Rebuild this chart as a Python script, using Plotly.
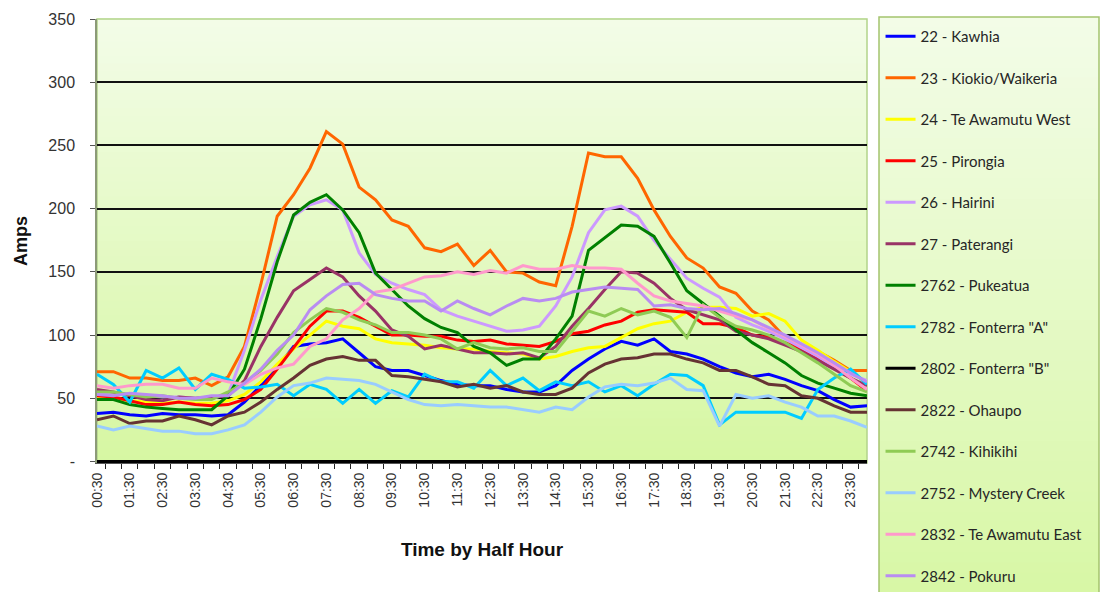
import plotly.graph_objects as go

times = ["00:30", "01:00", "01:30", "02:00", "02:30", "03:00", "03:30", "04:00",
         "04:30", "05:00", "05:30", "06:00", "06:30", "07:00", "07:30", "08:00",
         "08:30", "09:00", "09:30", "10:00", "10:30", "11:00", "11:30", "12:00",
         "12:30", "13:00", "13:30", "14:00", "14:30", "15:00", "15:30", "16:00",
         "16:30", "17:00", "17:30", "18:00", "18:30", "19:00", "19:30", "20:00",
         "20:30", "21:00", "21:30", "22:00", "22:30", "23:00", "23:30", "24:00"]

kawhia = [38, 39, 37, 36, 38, 37, 37, 36, 37, 47, 60, 74, 91, 93, 94, 97, 86, 75, 72, 72, 68, 64, 61, 60,
          60, 57, 55, 55, 60, 72, 81, 89, 95, 92, 97, 87, 85, 81, 75, 70, 67, 69, 65, 60, 56, 49, 43, 44]
kiokio = [71, 71, 66, 66, 64, 64, 66, 60, 67, 91, 140, 194, 211, 232, 261, 251, 217, 207, 191, 186, 169, 166, 172, 155,
          167, 150, 149, 142, 139, 186, 244, 241, 241, 224, 199, 178, 161, 153, 138, 133, 119, 112, 98, 92, 87, 80, 72, 72]
te_awamutu_west = [50, 50, 48, 47, 46, 47, 46, 46, 48, 53, 63, 77, 89, 100, 111, 107, 105, 97, 94, 93, 92, 90, 89, 89,
                   87, 86, 85, 81, 83, 87, 90, 91, 98, 105, 109, 111, 118, 122, 122, 121, 115, 117, 111, 96, 88, 79, 71, 62]
pirongia = [52, 51, 48, 45, 45, 47, 45, 44, 45, 49, 57, 73, 90, 107, 119, 119, 114, 107, 100, 100, 99, 99, 96, 95,
            96, 93, 92, 91, 95, 101, 103, 108, 111, 118, 120, 119, 118, 109, 109, 106, 100, 98, 94, 89, 81, 74, 66, 56]
hairini = [55, 54, 53, 52, 51, 51, 50, 50, 53, 88, 128, 162, 194, 203, 207, 199, 165, 148, 141, 136, 132, 120, 115, 111,
           107, 103, 104, 107, 123, 146, 181, 199, 202, 194, 175, 160, 145, 137, 130, 114, 108, 103, 97, 90, 83, 75, 69, 64]
paterangi = [57, 55, 52, 49, 48, 51, 50, 51, 52, 64, 91, 114, 135, 144, 153, 146, 131, 119, 104, 99, 89, 92, 89, 86,
             86, 85, 86, 82, 91, 107, 121, 136, 150, 149, 141, 129, 120, 116, 112, 103, 100, 97, 92, 87, 80, 73, 66, 60]
pukeatua = [49, 49, 45, 43, 42, 41, 41, 41, 52, 73, 113, 158, 195, 205, 211, 199, 181, 149, 136, 123, 113, 106, 102, 91,
            86, 76, 81, 81, 97, 115, 167, 177, 187, 186, 178, 157, 135, 125, 115, 104, 94, 86, 78, 68, 62, 58, 54, 52]
fonterra_a = [69, 61, 47, 72, 66, 74, 57, 69, 65, 58, 59, 61, 52, 61, 57, 46, 57, 46, 56, 51, 69, 63, 63, 58,
              72, 60, 66, 56, 63, 60, 63, 55, 60, 52, 61, 69, 68, 60, 29, 39, 39, 39, 39, 34, 57, 66, 73, 61]
fonterra_b = [0, 0, 0, 0, 0, 0, 0, 0, 0, 0, 0, 0, 0, 0, 0, 0, 0, 0, 0, 0, 0, 0, 0, 0,
              0, 0, 0, 0, 0, 0, 0, 0, 0, 0, 0, 0, 0, 0, 0, 0, 0, 0, 0, 0, 0, 0, 0, 0]
ohaupo = [33, 36, 30, 32, 32, 36, 33, 29, 36, 39, 47, 57, 66, 76, 81, 83, 80, 80, 68, 67, 65, 63, 59, 61,
          58, 60, 55, 53, 53, 58, 70, 77, 81, 82, 85, 85, 81, 78, 72, 72, 67, 61, 60, 52, 50, 44, 39, 39]
kihikihi = [55, 55, 53, 51, 52, 50, 49, 49, 55, 62, 72, 85, 102, 112, 121, 118, 112, 108, 102, 102, 100, 97, 89, 94,
            90, 89, 90, 87, 87, 103, 119, 115, 121, 116, 119, 114, 98, 124, 114, 107, 104, 100, 94, 86, 78, 69, 60, 55]
mystery_creek = [28, 25, 28, 26, 24, 24, 22, 22, 25, 29, 39, 51, 60, 62, 66, 65, 64, 61, 55, 49, 45, 44, 45, 44,
                 43, 43, 41, 39, 43, 41, 51, 59, 61, 60, 62, 66, 57, 56, 28, 53, 50, 52, 47, 43, 36, 36, 32, 27]
te_awamutu_east = [60, 58, 60, 61, 61, 58, 58, 66, 63, 61, 69, 74, 77, 91, 97, 112, 121, 134, 136, 141, 146, 147, 150, 148,
                   151, 149, 155, 152, 152, 155, 153, 153, 152, 141, 131, 127, 125, 123, 119, 115, 112, 105, 99, 92, 85, 76, 66, 57]
pokuru = [53, 52, 54, 53, 52, 50, 50, 52, 52, 62, 73, 88, 100, 120, 131, 140, 141, 132, 129, 127, 127, 119, 127, 121,
          116, 123, 129, 127, 129, 134, 136, 138, 137, 136, 123, 124, 121, 120, 121, 117, 112, 106, 100, 93, 86, 78, 70, 63]

series_names = ["22 - Kawhia", "23 - Kiokio/Waikeria", "24 - Te Awamutu West", "25 - Pirongia",
                "26 - Hairini", "27 - Paterangi", "2762 - Pukeatua", "2782 - Fonterra \"A\"",
                "2802 - Fonterra \"B\"", "2822 - Ohaupo", "2742 - Kihikihi", "2752 - Mystery Creek",
                "2832 - Te Awamutu East", "2842 - Pokuru"]
series_values = [kawhia, kiokio, te_awamutu_west, pirongia, hairini, paterangi, pukeatua,
                 fonterra_a, fonterra_b, ohaupo, kihikihi, mystery_creek, te_awamutu_east, pokuru]
series_colors = ["#0000FF", "#FF6600", "#FFFF00", "#FF0000", "#CC99FF", "#993366", "#008000",
                 "#00CCFF", "#000000", "#663333", "#8FCB55", "#99CCFF", "#FF99CC", "#B98CF2"]

y_ticks = [0, 50, 100, 150, 200, 250, 300, 350]
y_ticktext = ["-", "50", "100", "150", "200", "250", "300", "350"]

fig = go.Figure()
for i, (name, vals, col) in enumerate(zip(series_names, series_values, series_colors)):
    fig.add_trace(go.Scatter(x=times, y=vals, name=name, mode="lines",
                             line=dict(color=col, width=3), legendgroup="g%d" % i))


def lerp(c0, c1, t):
    a = [int(c0[k:k + 2], 16) for k in (1, 3, 5)]
    b = [int(c1[k:k + 2], 16) for k in (1, 3, 5)]
    return "rgb(%d,%d,%d)" % tuple(round(a[j] + (b[j] - a[j]) * t) for j in range(3))


PL, PR, PT, PB = 97, 867, 19, 463.5
PW, PH = PR - PL, PB - PT

shapes = []
bottom_c, top_c = "#D6F7A2", "#F3FCE8"
n = 60
for k in range(n):
    shapes.append(dict(type="rect", xref="x domain", yref="y domain", x0=0, x1=1,
                       y0=k / n, y1=(k + 1) / n + 0.002, fillcolor=lerp(bottom_c, top_c, (k + 0.5) / n),
                       line=dict(width=0), layer="below"))
shapes.append(dict(type="rect", xref="x domain", yref="y domain", x0=0, x1=1, y0=0, y1=1,
                   line=dict(color="#B3D38A", width=1.5), fillcolor="rgba(0,0,0,0)", layer="below"))

# legend box background (gradient) in paper coordinates
lx0, lx1 = (879 - PL) / PW, (1099 - PL) / PW
ly_top, ly_bot = 1 + (PT - 17) / PH, -0.36
for k in range(n):
    y0 = ly_bot + (ly_top - ly_bot) * k / n
    y1 = ly_bot + (ly_top - ly_bot) * (k + 1) / n + 0.002
    shapes.append(dict(type="rect", xref="paper", yref="paper", x0=lx0, x1=lx1, y0=y0, y1=min(y1, ly_top),
                       fillcolor=lerp(bottom_c, top_c, (k + 0.5) / n), line=dict(width=0), layer="below"))
shapes.append(dict(type="rect", xref="paper", yref="paper", x0=lx0, x1=lx1, y0=ly_bot, y1=ly_top,
                   line=dict(color="#A4C46E", width=1.5), fillcolor="rgba(0,0,0,0)", layer="below"))

fig.update_layout(
    width=1102, height=592,
    margin=dict(l=PL, r=1102 - PR, t=PT, b=592 - PB),
    paper_bgcolor="white",
    plot_bgcolor="#E6FAC8",
    font=dict(family="Liberation Sans, Arial, sans-serif", color="#333333"),
    shapes=shapes,
    showlegend=True,
    legend=dict(x=lx0 + 0.002, y=ly_top - 0.031, xanchor="left", yanchor="top",
                bgcolor="rgba(0,0,0,0)", borderwidth=0, maxheight=800,
                font=dict(family="Lato, Noto Sans, sans-serif", size=15, color="#262626"),
                tracegroupgap=19.0, itemwidth=30),
    xaxis=dict(type="category", categoryorder="array", categoryarray=times,
               tickmode="array", tickvals=times,
               ticktext=[t if i % 2 == 0 else "" for i, t in enumerate(times)],
               tickangle=-90, tickson="boundaries", ticks="outside", ticklen=5,
               tickcolor="#222222", tickwidth=1, ticklabelstandoff=3,
               tickfont=dict(size=14, color="#333333"),
               showgrid=False, showline=True, linecolor="#555555", linewidth=1,
               title=dict(text="<b>Time by Half Hour</b>",
                          font=dict(family="Liberation Sans Narrow, Arial Narrow, Liberation Sans", size=19,
                                    color="#111111"),
                          standoff=36)),
    yaxis=dict(range=[-1.2, 350], tickmode="array", tickvals=y_ticks, ticktext=y_ticktext,
               ticks="outside", ticklen=5, tickcolor="#555555", ticklabelstandoff=12,
               tickfont=dict(size=16, color="#333333"),
               showgrid=True, gridcolor="#111111", gridwidth=1.5, zeroline=False,
               showline=True, linecolor="#8C9A78", linewidth=1.5,
               title=dict(text="<b>Amps</b>", font=dict(size=18, color="#111111"), standoff=16)),
)

fig.write_html("out.html")
